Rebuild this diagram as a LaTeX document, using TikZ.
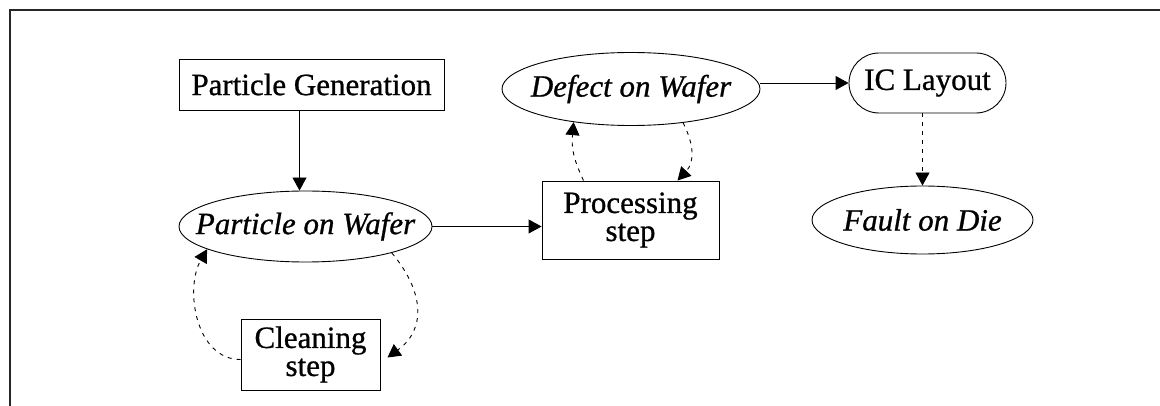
\documentclass[tikz,border=0pt]{standalone}
\usepackage{fontspec}
\setmainfont{Liberation Serif}[FakeBold=0.8]
\usetikzlibrary{shapes.geometric,arrows.meta}
\begin{document}
\begin{tikzpicture}[x=1pt,y=-1pt,
  every node/.style={font=\fontsize{31}{28}\selectfont, inner sep=0pt, line width=0.9pt},
  boxnode/.style={draw, rectangle, align=center},
  ovalnode/.style={draw, ellipse, inner xsep=-30pt},
  pillnode/.style={draw, rectangle, rounded corners=30pt},
  arr/.style={line width=0.9pt, -{Triangle[length=13pt,width=14pt]}},
  darr/.style={arr, dash pattern=on 4pt off 5pt}]
\useasboundingbox (0,0) rectangle (1160,406);
% frame
\draw[line width=1.3pt, black!85] (10,406) -- (10,10) -- (1160,10);

% nodes
\node[boxnode, minimum width=265pt, minimum height=51pt] (pg) at (311.5,84.5) {Particle Generation};
\node[ovalnode, minimum width=253pt, minimum height=71pt] (pow) at (305.5,226.5) {\itshape Particle on Wafer};
\node[boxnode, minimum width=139pt, minimum height=71pt] (cs) at (310.5,354.5) {Cleaning\\step};
\node[boxnode, minimum width=177pt, minimum height=78pt] (ps) at (630.5,220) {Processing\\step};
\node[ovalnode, minimum width=258pt, minimum height=73pt] (dow) at (631,89) {\itshape Defect on Wafer};
\node[pillnode, minimum width=157pt, minimum height=60pt] (ic) at (927.5,83) {IC Layout};
\node[ovalnode, minimum width=221pt, minimum height=68pt] (fod) at (922.5,220) {\itshape Fault on Die};

% solid flow
\draw[arr] ([xshift=-12pt]pg.south) -- ([xshift=-6pt]pow.north);
\draw[arr] (pow.east) -- (pow.east -| ps.west);
\draw[arr] (ic.west -| dow.east) -- (ic.west);

% dashed loops and links
\draw[darr] ([yshift=-5pt]cs.west) to[out=180,in=240,looseness=1.0] (pow.193);
\draw[darr] (pow.-17) to[out=-50,in=36,looseness=1.2] ([xshift=7pt,yshift=-3pt]cs.east);
\draw[darr] ([xshift=-47pt]ps.north) to[out=115,in=265,looseness=1.1] (dow.210);
\draw[darr] (dow.-33) to[out=-63,in=47,looseness=1.1] ([xshift=47pt]ps.north);
\draw[darr] (ic.south -| fod.north) -- (fod.north);
\end{tikzpicture}
\end{document}
